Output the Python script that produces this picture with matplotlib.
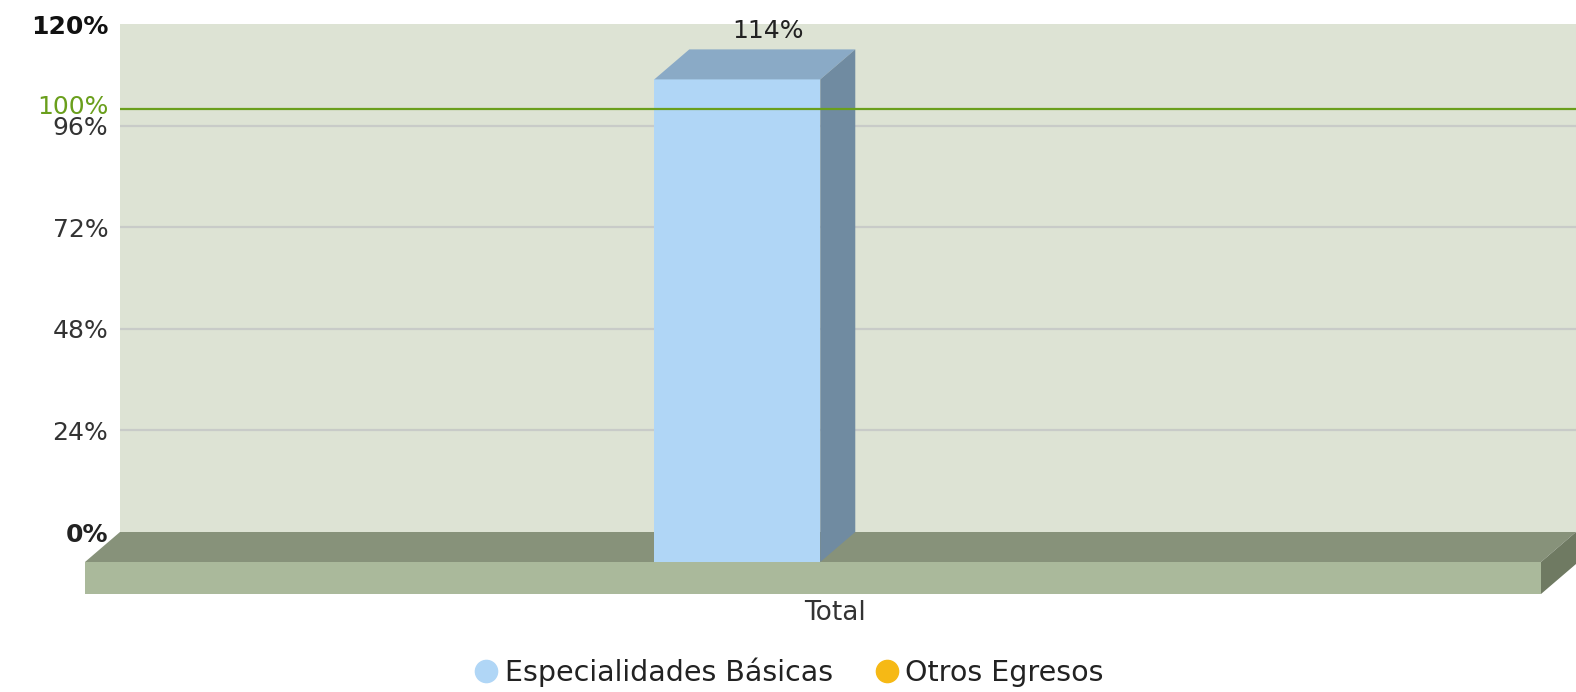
import matplotlib
matplotlib.use("Agg")
import matplotlib.pyplot as plt
from matplotlib.patches import Polygon, Rectangle
from matplotlib.lines import Line2D

categories = ['Total']
series_names = ['Especialidades Básicas', 'Otros Egresos']
series_colors = ['#b0d6f6', '#f6b915']
values = [114]          # Especialidades Básicas
trend_value = 100
trend_label = '100%'
yticks = [0, 24, 48, 72, 96, 120]
ytick_labels = ['0%', '24%', '48%', '72%', '96%', '120%']

W, H = 1576, 692
fig = plt.figure(figsize=(W / 100, H / 100), dpi=100)
ax = fig.add_axes([120 / W, 1 - 532 / H, 1 - 120 / W, 508 / H])
ax.set_facecolor('#dde3d4')
ax.set_xlim(-0.448, 0.552)
ax.set_ylim(0, 120)
for s in ax.spines.values():
    s.set_visible(False)

# depth of the 3d effect, pixels -> data units
px_x = 1456 / (ax.get_xlim()[1] - ax.get_xlim()[0])
px_y = 508 / 120
dx = 35 / px_x
dy = 30 / px_y
slab = 32 / px_y

ax.set_yticks(yticks)
ax.set_yticklabels(ytick_labels)
ax.tick_params(axis='y', length=0, pad=8.5, labelsize=18, labelcolor='#333333')
labels = ax.get_yticklabels()
labels[0].set_fontweight('bold')
labels[-1].set_fontweight('bold')
labels[-1].set_color('#111111')
labels[0].set_color('#222222')
ax.set_xticks([])
for t in yticks[1:-1]:
    ax.axhline(t, color='#c8cbc8', lw=1.6, zorder=1)

# floor
x0, x1 = ax.get_xlim()
floor_top = Polygon([(x0, 0), (x1, 0), (x1 - dx, -dy), (x0 - dx, -dy)],
                    closed=True, fc='#87927a', ec='none', clip_on=False, zorder=2)
floor_front = Rectangle((x0 - dx, -dy - slab), x1 - x0, slab,
                        fc='#aab99b', ec='none', clip_on=False, zorder=2)
floor_side = Polygon([(x1 - dx, -dy), (x1, 0), (x1, -slab), (x1 - dx, -dy - slab)],
                     closed=True, fc='#6f7a62', ec='none', clip_on=False, zorder=2)
for p in (floor_top, floor_front, floor_side):
    ax.add_patch(p)

# bars
w = 0.114
for i, v in enumerate(values):
    c = i
    l, r = c - w / 2, c + w / 2
    ax.add_patch(Rectangle((l - dx, -dy), w, v, fc=series_colors[0], ec='none',
                           clip_on=False, zorder=4))
    ax.add_patch(Polygon([(l - dx, v - dy), (r - dx, v - dy), (r, v), (l, v)],
                         closed=True, fc='#8aaac6', ec='none', clip_on=False, zorder=4))
    ax.add_patch(Polygon([(r - dx, -dy), (r, 0), (r, v), (r - dx, v - dy)],
                         closed=True, fc='#708ba1', ec='none', clip_on=False, zorder=4))
    ax.annotate('%d%%' % v, (c, v), xytext=(-3, 13), textcoords='offset points',
                ha='center', va='center', fontsize=18, color='#222222')
    ax.annotate(categories[i], (c - dx, -dy - slab), xytext=(70, -14),
                textcoords='offset points', ha='center', va='center',
                fontsize=19, color='#333333', annotation_clip=False)

# trend line
ax.axhline(trend_value, color='#6a9f1c', lw=1.6, zorder=5)
ax.annotate(trend_label, (x0, trend_value), xytext=(-8.5, 1), textcoords='offset points',
            ha='right', va='center', fontsize=18, color='#6a9f1c', annotation_clip=False)

handles = [Line2D([], [], ls='none', marker='o', markersize=16, mfc=c, mec=c)
           for c in series_colors]
fig.legend(handles, series_names, loc='lower center', bbox_to_anchor=(0.5, -0.03),
           ncol=2, frameon=False, fontsize=20.5, handletextpad=0.15, columnspacing=1.4,
           labelcolor='#222222', handlelength=1.0)

fig.savefig('out.png', dpi=100)
